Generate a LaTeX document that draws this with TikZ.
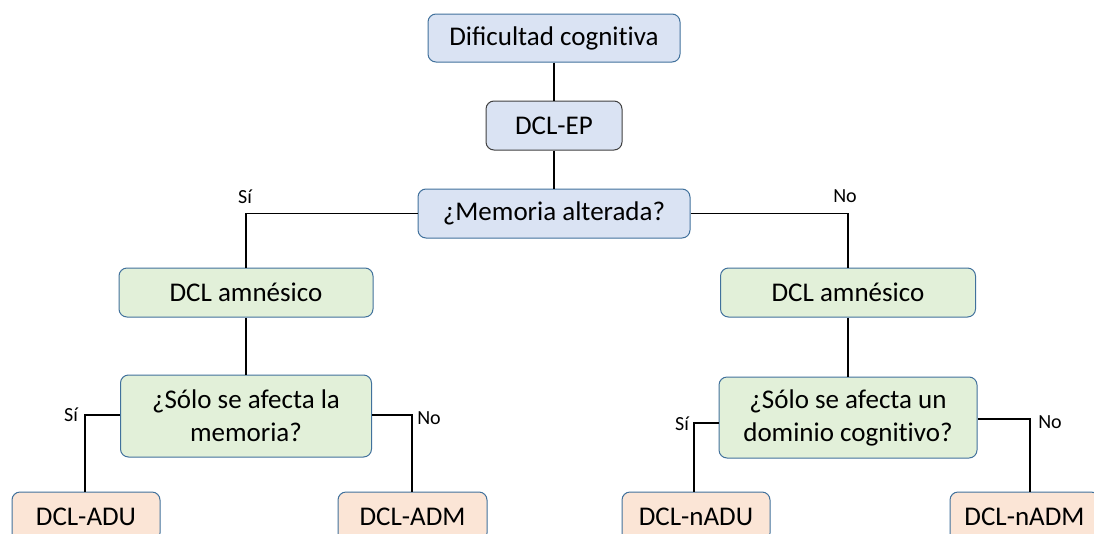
\documentclass[tikz,border=0pt]{standalone}
\usepackage{fontspec}
\setmainfont{Carlito}
\definecolor{bfill}{HTML}{DAE3F3}
\definecolor{gfill}{HTML}{E2F0D9}
\definecolor{ofill}{HTML}{FBE5D6}
\definecolor{edge}{HTML}{41719C}
\definecolor{dark}{HTML}{404040}
\newcommand{\nolig}{\kern0pt }
\tikzset{
  box/.style={draw=edge, line width=1pt, rounded corners=8pt, align=center, inner sep=0pt, font=\fontsize{27}{33}\selectfont},
  bluebox/.style={box, fill=bfill},
  greenbox/.style={box, fill=gfill},
  orangebox/.style={box, fill=ofill},
  conn/.style={line width=1.6pt, black},
  lbl/.style={font=\fontsize{20}{22}\selectfont, inner sep=0pt}
}
\begin{document}
\begin{tikzpicture}[x=1pt,y=-1pt]
\useasboundingbox (0,0) rectangle (1094,533);
\clip (0,0) rectangle (1094,533);
% nodes
\node[bluebox, minimum width=252pt, minimum height=48pt] (dc) at (554,38) {Dificultad cognit\nolig iva};
\node[bluebox, draw=dark, minimum width=136pt, minimum height=49pt] (ep) at (554,125.5) {DCL-EP};
\node[bluebox, minimum width=272pt, minimum height=49pt] (mem) at (554,213.5) {¿Memoria alterada?};
\node[greenbox, minimum width=254pt, minimum height=49pt] (al) at (246,292.5) {DCL amnésico};
\node[greenbox, minimum width=255pt, minimum height=49pt] (ar) at (848,292.5) {DCL amnésico};
\node[greenbox, minimum width=251pt, minimum height=82pt] (ql) at (246,416) {¿Sólo se afecta la\\memoria?};
\node[greenbox, minimum width=258pt, minimum height=81pt] (qr) at (848,417.5) {¿Sólo se afecta un\\dominio cognit\nolig ivo?};
\node[orangebox, minimum width=148pt, minimum height=49pt] (adu) at (86,516.5) {DCL-ADU};
\node[orangebox, minimum width=149pt, minimum height=49pt] (adm) at (412.5,516.5) {DCL-ADM};
\node[orangebox, minimum width=148pt, minimum height=49pt] (nadu) at (696,516.5) {DCL-nADU};
\node[orangebox, minimum width=149pt, minimum height=49pt] (nadm) at (1024.5,516.5) {DCL-nADM};
% coordinates
\coordinate (l1) at (85,415);
\coordinate (l2) at (412,415);
\coordinate (r1) at (694,423);
\coordinate (r2) at (1030,419);
% connectors
\draw[conn] (dc.south) -- (ep.north);
\draw[conn] (ep.south) -- (mem.north);
\draw[conn] (mem.west) -- (mem.west -| al.north) -- (al.north);
\draw[conn] (mem.east) -- (mem.east -| ar.north) -- (ar.north);
\draw[conn] (al.south) -- (ql.north);
\draw[conn] (ar.south) -- (qr.north);
\draw[conn] (ql.west |- l1) -- (l1) -- (l1 |- adu.north);
\draw[conn] (ql.east |- l2) -- (l2) -- (l2 |- adm.north);
\draw[conn] (qr.west |- r1) -- (r1) -- (r1 |- nadu.north);
\draw[conn] (qr.east |- r2) -- (r2) -- (r2 |- nadm.north);
% labels
\node[lbl] (ls1) at (245,197) {Sí};
\node[lbl] (ln1) at (845,196) {No};
\node[lbl] (ls2) at (71,415) {Sí};
\node[lbl] (ln2) at (429,418) {No};
\node[lbl] (ls3) at (682,424) {Sí};
\node[lbl] (ln3) at (1050,422) {No};
\end{tikzpicture}
\end{document}
